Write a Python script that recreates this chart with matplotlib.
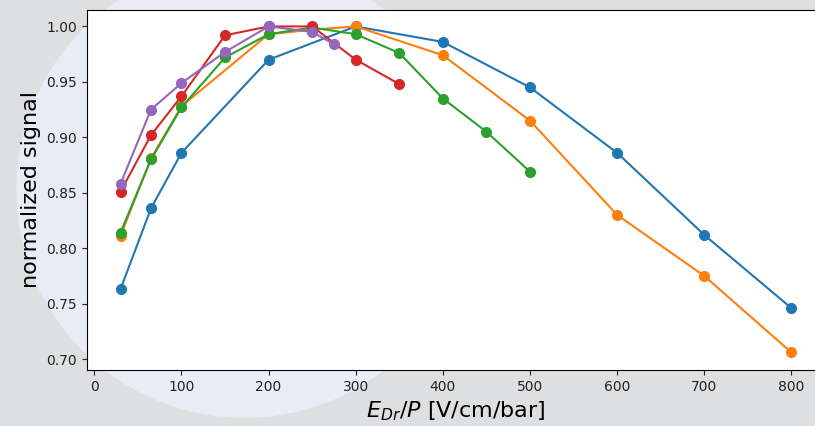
import matplotlib.pyplot as plt
from matplotlib.patches import Ellipse

# drift field over pressure [V/cm/bar] and normalized signal per series
x_blue = [30, 65, 100, 200, 300, 400, 500, 600, 700, 800]
y_blue = [0.763, 0.836, 0.886, 0.970, 1.000, 0.986, 0.945, 0.886, 0.812, 0.746]

x_orange = [30, 65, 100, 200, 250, 300, 400, 500, 600, 700, 800]
y_orange = [0.811, 0.881, 0.928, 0.993, 0.997, 1.000, 0.974, 0.915, 0.830, 0.775, 0.706]

x_green = [30, 65, 100, 150, 200, 250, 300, 350, 400, 450, 500]
y_green = [0.814, 0.880, 0.927, 0.972, 0.993, 0.999, 0.993, 0.976, 0.935, 0.905, 0.869]

x_red = [30, 65, 100, 150, 200, 250, 300, 350]
y_red = [0.851, 0.902, 0.937, 0.992, 1.000, 1.000, 0.970, 0.948]

x_purple = [30, 65, 100, 150, 200, 250, 275]
y_purple = [0.858, 0.925, 0.949, 0.977, 1.000, 0.995, 0.984]

series = [
    (x_blue, y_blue, 'tab:blue'),
    (x_orange, y_orange, 'tab:orange'),
    (x_green, y_green, 'tab:green'),
    (x_red, y_red, 'tab:red'),
    (x_purple, y_purple, 'tab:purple'),
]

fig = plt.figure(figsize=(8.15, 4.26), dpi=100)
fig.patch.set_facecolor('#dedfe1')

# light slide background circle behind the plot (round in pixels)
fig.patches.append(Ellipse((0.30, 0.554), 0.56, 1.07, transform=fig.transFigure,
                           facecolor='#e9ecf4', edgecolor='none', zorder=-1))

ax = fig.add_axes([0.1067, 0.1315, 0.9055, 0.845])
ax.set_facecolor('white')

for xs, ys, c in series:
    ax.plot(xs, ys, '-o', color=c, linewidth=1.5, markersize=7)

ax.set_xlim(-8.5, 838.5)
ax.set_ylim(0.6902, 1.0148)
ax.set_xticks([0, 100, 200, 300, 400, 500, 600, 700, 800])
ax.set_yticks([0.70, 0.75, 0.80, 0.85, 0.90, 0.95, 1.00])
ax.tick_params(labelsize=10, colors='#222222')

ax.set_xlabel(r'$E_{Dr}/P$ [V/cm/bar]', fontsize=16)
ax.set_ylabel('normalized signal', fontsize=16)

fig.savefig('out.png', dpi=100, facecolor=fig.get_facecolor())
